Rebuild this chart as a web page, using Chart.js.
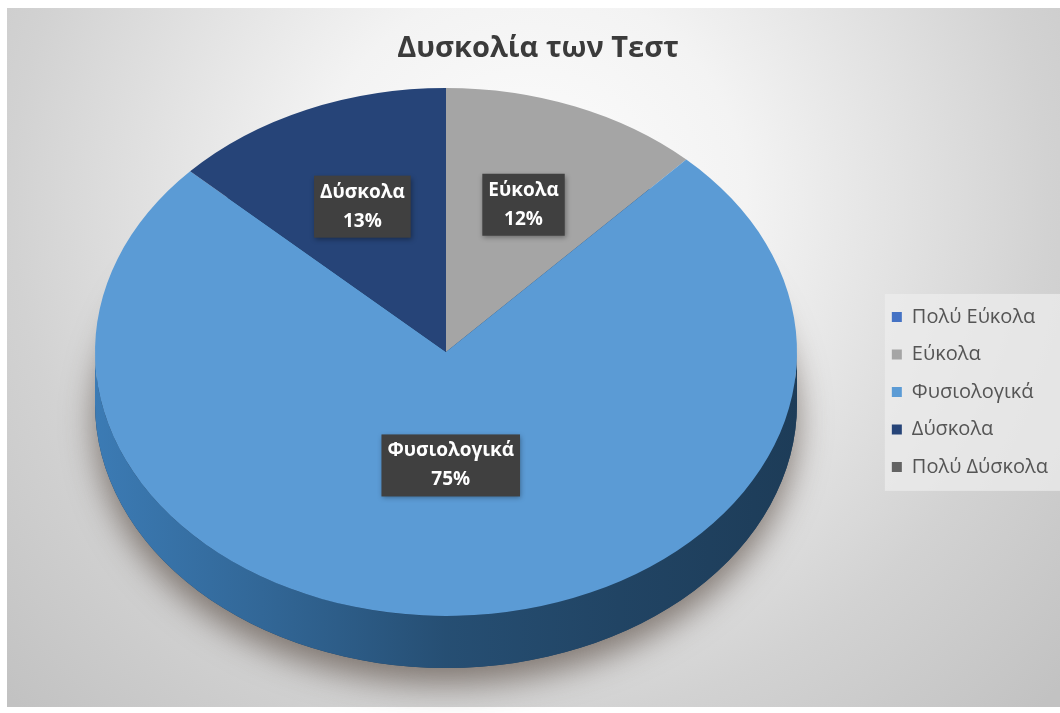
<!DOCTYPE html>
<html lang="el">
<head>
<meta charset="utf-8">
<title>Δυσκολία των Τεστ</title>
<script src="https://cdn.jsdelivr.net/npm/chart.js@4/dist/chart.umd.min.js"></script>
<style>
  html, body { margin: 0; padding: 0; background: #ffffff; }
  canvas { display: block; }
</style>
</head>
<body>
<canvas id="difficultyChart" width="1060" height="713"></canvas>
<script>
// Survey answers: how difficult the tests were
const categories = ['Πολύ Εύκολα', 'Εύκολα', 'Φυσιολογικά', 'Δύσκολα', 'Πολύ Δύσκολα'];
const shares = [0, 12, 75, 13, 0];
const sliceColors = ['#4472c4', '#a5a5a5', '#5b9bd5', '#264478', '#636363'];
const chartTitle = 'Δυσκολία των Τεστ';

const FONT = '"Open Sans", "Noto Sans", "DejaVu Sans", sans-serif';

// Placement of the tilted (3-D look) pie on the page
const PIE = { cx: 446, cy: 352, r: 351, tilt: 0.752, depth: 52 };

// ---- colour helpers -------------------------------------------------------
function hexToHsl(hex) {
  const n = parseInt(hex.slice(1), 16);
  const r = ((n >> 16) & 255) / 255, g = ((n >> 8) & 255) / 255, b = (n & 255) / 255;
  const max = Math.max(r, g, b), min = Math.min(r, g, b);
  let h = 0, s = 0;
  const l = (max + min) / 2;
  if (max !== min) {
    const d = max - min;
    s = l > 0.5 ? d / (2 - max - min) : d / (max + min);
    if (max === r) h = (g - b) / d + (g < b ? 6 : 0);
    else if (max === g) h = (b - r) / d + 2;
    else h = (r - g) / d + 4;
    h *= 60;
  }
  return { h, s: s * 100, l: l * 100 };
}
function shade(hex, light, satScale) {
  const c = hexToHsl(hex);
  return `hsl(${c.h.toFixed(1)}, ${(c.s * satScale).toFixed(1)}%, ${light}%)`;
}

// ---- background: soft radial fill and the legend panel --------------------
const backdropPlugin = {
  id: 'backdrop',
  beforeDraw(chart) {
    const ctx = chart.ctx;
    ctx.save();
    ctx.fillStyle = '#ffffff';
    ctx.fillRect(0, 0, chart.width, chart.height);
    const g = ctx.createRadialGradient(530, 200, 0, 530, 200, 720);
    g.addColorStop(0, '#fdfdfd');
    g.addColorStop(0.3, '#f3f3f3');
    g.addColorStop(0.72, '#d2d2d2');
    g.addColorStop(1, '#c2c2c2');
    ctx.fillStyle = g;
    ctx.fillRect(7, 8, chart.width - 7, chart.height - 14);

    const boxes = chart.legend && chart.legend.legendHitBoxes;
    if (boxes && boxes.length) {
      const first = boxes[0], last = boxes[boxes.length - 1];
      const left = Math.min(...boxes.map(b => b.left)) - 7;
      ctx.fillStyle = 'rgba(236,236,236,0.75)';
      ctx.fillRect(left, first.top - 13, chart.width - left, last.top + last.height + 14 - (first.top - 13));
    }
    ctx.restore();
  }
};

// ---- tilted pie: side wall, squashed top face, and value boxes -----------
function drawSideWall(ctx, arcs) {
  const { cx, cy, tilt, depth } = PIE;
  // shadow cast by the base of the pie
  const base = arcs[0].getProps(['outerRadius'], true).outerRadius;
  ctx.save();
  ctx.shadowColor = 'rgba(70,55,45,0.6)';
  ctx.shadowBlur = 32;
  ctx.shadowOffsetY = 16;
  ctx.beginPath();
  ctx.ellipse(cx, cy + depth, base, base * tilt, 0, 0, Math.PI * 2);
  ctx.fillStyle = '#22405f';
  ctx.fill();
  ctx.restore();

  arcs.forEach((arc, i) => {
    const p = arc.getProps(['startAngle', 'endAngle', 'outerRadius'], true);
    if (p.endAngle - p.startAngle <= 0) return;
    const R = p.outerRadius;
    const grad = ctx.createLinearGradient(cx - R, 0, cx + R, 0);
    grad.addColorStop(0, shade(sliceColors[i], 47, 0.85));
    grad.addColorStop(0.25, shade(sliceColors[i], 39, 0.85));
    grad.addColorStop(0.5, shade(sliceColors[i], 30, 0.85));
    grad.addColorStop(0.75, shade(sliceColors[i], 26, 0.85));
    grad.addColorStop(1, shade(sliceColors[i], 23, 0.85));
    for (let k = -1; k <= 1; k++) {
      const s = Math.max(p.startAngle + 2 * Math.PI * k, 0);
      const e = Math.min(p.endAngle + 2 * Math.PI * k, Math.PI);
      if (e <= s) continue;
      ctx.beginPath();
      ctx.ellipse(cx, cy, R, R * tilt, 0, s, e);
      ctx.ellipse(cx, cy + depth, R, R * tilt, 0, e, s, true);
      ctx.closePath();
      ctx.fillStyle = grad;
      ctx.fill();
    }
  });
}

function drawValueBoxes(chart) {
  const ctx = chart.ctx;
  const arcs = chart.getDatasetMeta(0).data;
  const total = shares.reduce((a, b) => a + b, 0);
  ctx.save();
  ctx.font = `bold 19px ${FONT}`;
  ctx.textAlign = 'center';
  ctx.textBaseline = 'middle';
  arcs.forEach((arc, i) => {
    const v = shares[i];
    if (!v) return;
    const p = arc.getProps(['startAngle', 'endAngle', 'outerRadius'], true);
    const mid = (p.startAngle + p.endAngle) / 2;
    const f = v / total > 0.5 ? 0.43 : 0.6;
    const x = PIE.cx + Math.cos(mid) * p.outerRadius * f;
    const y = PIE.cy + Math.sin(mid) * p.outerRadius * f * PIE.tilt;
    const lines = [categories[i], Math.round(v / total * 100) + '%'];
    const w = Math.max(...lines.map(t => ctx.measureText(t).width)) + 12;
    const lh = 29, h = lh * 2 + 4;
    ctx.save();
    ctx.shadowColor = 'rgba(0,0,0,0.35)';
    ctx.shadowBlur = 5;
    ctx.shadowOffsetX = 1;
    ctx.shadowOffsetY = 2;
    ctx.fillStyle = '#404040';
    ctx.fillRect(x - w / 2, y - h / 2, w, h);
    ctx.restore();
    ctx.fillStyle = '#ffffff';
    ctx.fillText(lines[0], x, y - lh / 2);
    ctx.fillText(lines[1], x, y + lh / 2);
  });
  ctx.restore();
}

const tiltPlugin = {
  id: 'tiltedPie',
  beforeDatasetsDraw(chart) {
    const ctx = chart.ctx;
    const arcs = chart.getDatasetMeta(0).data;
    const a = arcs[0];
    ctx.save();
    drawSideWall(ctx, arcs);
    // squash the round pie into an ellipse around the chosen centre
    ctx.translate(PIE.cx, PIE.cy);
    ctx.scale(1, PIE.tilt);
    ctx.translate(-a.x, -a.y);
  },
  afterDatasetsDraw(chart) {
    chart.ctx.restore();
    drawValueBoxes(chart);
  }
};

new Chart(document.getElementById('difficultyChart'), {
  type: 'pie',
  data: {
    labels: categories,
    datasets: [{
      data: shares,
      backgroundColor: sliceColors,
      borderWidth: 0,
      radius: PIE.r,
      clip: 4000
    }]
  },
  options: {
    responsive: false,
    animation: false,
    devicePixelRatio: 1,
    events: [],
    layout: { padding: { left: 18, right: 2, top: 0, bottom: 6 } },
    plugins: {
      title: {
        display: true,
        text: chartTitle,
        color: '#3b3b3b',
        font: { family: FONT, size: 29, weight: 'bold' },
        padding: { top: 31, bottom: 11 }
      },
      legend: {
        position: 'right',
        align: 'center',
        fullSize: false,
        labels: {
          boxWidth: 10,
          boxHeight: 10,
          padding: 17.5,
          color: '#555555',
          font: { family: FONT, size: 20 }
        }
      },
      tooltip: { enabled: false }
    }
  },
  plugins: [backdropPlugin, tiltPlugin]
});
</script>
</body>
</html>
